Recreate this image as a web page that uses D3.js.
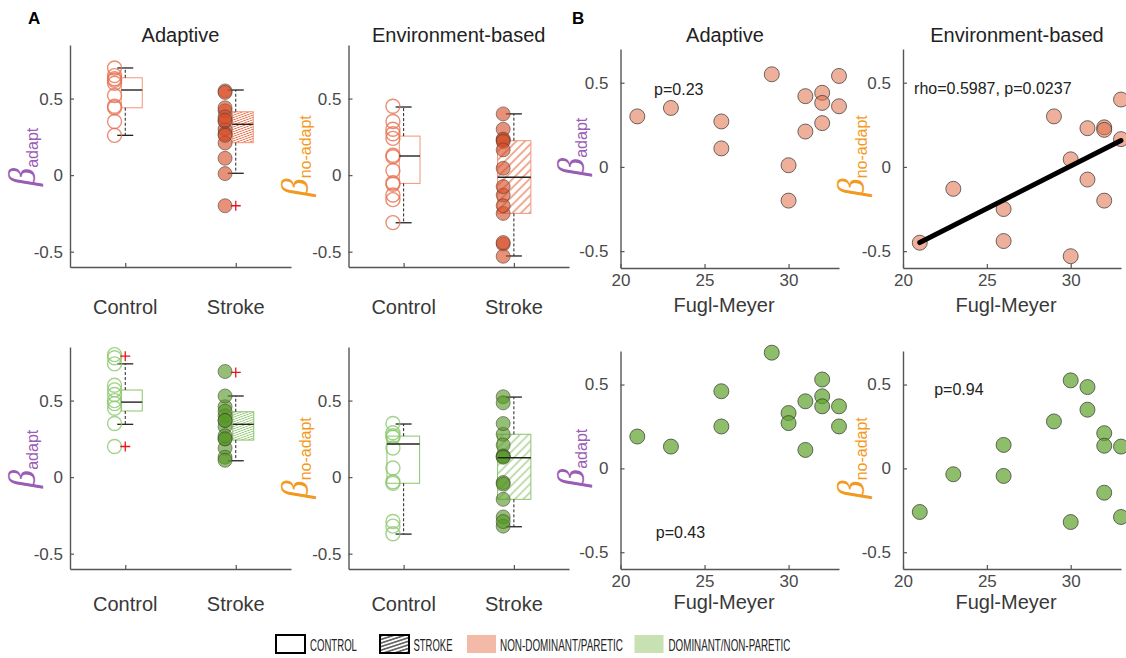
<!DOCTYPE html>
<html>
<head>
<meta charset="utf-8">
<script src="https://cdn.jsdelivr.net/npm/d3@7"></script>
<style>
  body { margin: 0; background: #fff; }
  svg { display: block; font-family: "Liberation Sans", Arial, sans-serif; }
</style>
</head>
<body>
<svg id="chart" width="1126" height="658"></svg>
<script>
// ---------------- data ----------------
const groups = ["Control", "Stroke"];
const betaTicks = [-0.5, 0, 0.5];
const fmTicks = [20, 25, 30];

// Fugl-Meyer score of each stroke participant
const fuglMeyer = [21, 23, 26, 26, 29, 30, 30, 31, 31, 32, 32, 32, 33, 33];

// Non-dominant / paretic arm
const strokeAdaptParetic = [0.30, 0.35, 0.27, 0.11, 0.55, 0.01, -0.20, 0.42, 0.21, 0.44, 0.38, 0.26, 0.54, 0.36];
const strokeEnvParetic   = [-0.45, -0.13, -0.25, -0.44, 0.30, 0.045, -0.53, 0.23, -0.075, 0.235, 0.22, -0.20, 0.40, 0.165];
const controlAdaptNonDom = [0.70, 0.65, 0.63, 0.62, 0.60, 0.52, 0.45, 0.44, 0.35, 0.26];
const controlEnvNonDom   = [0.45, 0.35, 0.30, 0.27, 0.24, 0.13, 0.12, 0.03, -0.05, -0.06, -0.13, -0.16, -0.31];

// Dominant / non-paretic arm
const strokeAdaptNonParetic = [0.19, 0.13, 0.46, 0.25, 0.69, 0.33, 0.27, 0.40, 0.11, 0.53, 0.43, 0.37, 0.37, 0.25];
const strokeEnvNonParetic   = [-0.26, -0.035, 0.14, -0.045, 0.28, 0.525, -0.32, 0.485, 0.35, 0.21, 0.135, -0.145, 0.13, -0.29];
const controlAdaptDom = [0.80, 0.78, 0.74, 0.60, 0.57, 0.54, 0.50, 0.48, 0.45, 0.35, 0.20];
const controlEnvDom   = [0.35, 0.29, 0.27, 0.26, 0.19, 0.06, -0.03, -0.04, -0.29, -0.32, -0.37];

// Box summaries [Control, Stroke]: quartiles, whisker ends, outliers
const boxAdaptParetic = [
  { q1: 0.44, med: 0.556, q3: 0.636, lo: 0.26, hi: 0.70, out: [] },
  { q1: 0.212, med: 0.332, q3: 0.414, lo: 0.012, hi: 0.556, out: [-0.20] }
];
const boxEnvParetic = [
  { q1: -0.054, med: 0.125, q3: 0.255, lo: -0.311, hi: 0.445, out: [] },
  { q1: -0.25, med: -0.014, q3: 0.225, lo: -0.528, hi: 0.40, out: [] }
];
const boxAdaptNonParetic = [
  { q1: 0.432, med: 0.49, q3: 0.569, lo: 0.345, hi: 0.74, out: [0.79, 0.20] },
  { q1: 0.242, med: 0.345, q3: 0.427, lo: 0.107, hi: 0.53, out: [0.684] }
];
const boxEnvNonParetic = [
  { q1: -0.04, med: 0.216, q3: 0.268, lo: -0.372, hi: 0.347, out: [] },
  { q1: -0.145, med: 0.127, q3: 0.28, lo: -0.324, hi: 0.523, out: [] }
];

const statLabels = ["p=0.23", "rho=0.5987, p=0.0237", "p=0.43", "p=0.94"];
const legendLabels = ["CONTROL", "STROKE", "NON-DOMINANT/PARETIC", "DOMINANT/NON-PARETIC"];

// ---------------- styles ----------------
const pal = {
  pink: {
    hollow: "rgb(230,112,80)", dot: "rgb(214,78,38)", box: "rgb(240,150,122)",
    hatch: "rgb(232,100,58)", scatter: "rgb(224,111,73)", scatterOp: 0.55, swatch: "#F3BBA7"
  },
  green: {
    hollow: "rgb(140,200,110)", dot: "rgb(84,152,36)", box: "rgb(140,195,110)",
    hatch: "rgb(140,195,110)", scatter: "rgb(94,162,41)", scatterOp: 0.7, swatch: "#C7E1B3"
  }
};
const axisColor = "#555";
const tickColor = "#4a4a4a";
const purple = "#9A5CB4";
const orange = "#F39A1E";
const fmt = d => d === 0 ? "0" : String(d);

const svg = d3.select("#chart");
const defs = svg.append("defs");

function hatchPattern(id, color, spacing, angle, width) {
  const p = defs.append("pattern").attr("id", id)
    .attr("patternUnits", "userSpaceOnUse")
    .attr("width", 12).attr("height", spacing)
    .attr("patternTransform", `rotate(${angle})`);
  p.append("line").attr("x1", 0).attr("x2", 12)
    .attr("y1", spacing / 2).attr("y2", spacing / 2)
    .attr("stroke", color).attr("stroke-width", width);
}
hatchPattern("hatchPinkDense", pal.pink.hatch, 2.2, -20, 0.8);
hatchPattern("hatchPinkWide", pal.pink.hatch, 6, -45, 1.1);
hatchPattern("hatchGreenDense", pal.green.hatch, 2.2, -20, 0.8);
hatchPattern("hatchGreenWide", pal.green.hatch, 6, -45, 1.1);
hatchPattern("hatchBlack", "#111", 3.4, -18, 1.1);

function styleAxis(sel) {
  sel.select(".domain").attr("stroke", axisColor).attr("stroke-width", 1.4);
  sel.selectAll(".tick line").attr("stroke", axisColor).attr("stroke-width", 1.2);
  sel.selectAll(".tick text").attr("fill", tickColor).attr("font-size", 17)
    .attr("font-family", "'Liberation Sans', Arial, sans-serif");
}

function betaLabel(x, y, sub, color, size) {
  const t = svg.append("text")
    .attr("transform", `translate(${x},${y}) rotate(-90)`)
    .attr("text-anchor", "middle").attr("fill", color);
  t.append("tspan")
    .attr("font-family", "'Liberation Serif', 'DejaVu Serif', serif")
    .attr("font-style", "italic").attr("font-size", size).text("β");
  t.append("tspan").attr("font-size", 16).attr("dy", 3).text(sub);
}

// ---------------- box plot panel ----------------
function boxPanel(o) {
  const x = d3.scaleLinear().domain([0.5, 2.5]).range([o.left, o.right]);
  const y = d3.scaleLinear().domain([-0.6, 0.85]).range([o.bottom, o.top]);
  const g = svg.append("g");

  g.append("g").attr("transform", `translate(${o.left},0)`)
    .call(d3.axisLeft(y).tickValues(betaTicks).tickFormat(fmt)
      .tickSizeInner(-4).tickSizeOuter(0).tickPadding(7))
    .call(styleAxis);
  g.append("g").attr("transform", `translate(0,${o.bottom})`)
    .call(d3.axisBottom(x).tickValues([1, 2]).tickFormat("")
      .tickSizeInner(-4).tickSizeOuter(0))
    .call(styleAxis);

  groups.forEach((name, i) => {
    const cx = x(i + 1);
    const s = o.stats[i];
    const span = o.spans[i];
    const vals = i === 0 ? o.control : o.stroke;

    // box
    g.append("rect")
      .attr("x", cx + span[0]).attr("width", span[1] - span[0])
      .attr("y", y(s.q3)).attr("height", y(s.q1) - y(s.q3))
      .attr("fill", i === 0 ? "none" : `url(#${o.hatch})`)
      .attr("stroke", o.pal.box).attr("stroke-width", 1);

    // whiskers
    [[s.q3, s.hi], [s.q1, s.lo]].forEach(([a, b]) => {
      g.append("line").attr("x1", cx).attr("x2", cx)
        .attr("y1", y(a)).attr("y2", y(b))
        .attr("stroke", "#222").attr("stroke-width", 1).attr("stroke-dasharray", "3,2");
      g.append("line").attr("x1", cx - 8).attr("x2", cx + 8)
        .attr("y1", y(b)).attr("y2", y(b))
        .attr("stroke", "#222").attr("stroke-width", 1.3);
    });

    // individual participants
    g.append("g").selectAll("circle").data(vals).join("circle")
      .attr("cx", cx - 10.7).attr("cy", d => y(d)).attr("r", 7)
      .attr("fill", i === 0 ? "none" : o.pal.dot)
      .attr("fill-opacity", 0.62)
      .attr("stroke", i === 0 ? o.pal.hollow : "rgb(70,60,55)")
      .attr("stroke-opacity", i === 0 ? 0.8 : 0.55)
      .attr("stroke-width", i === 0 ? 1.4 : 1);

    // median
    g.append("line").attr("x1", cx + span[0]).attr("x2", cx + span[1])
      .attr("y1", y(s.med)).attr("y2", y(s.med))
      .attr("stroke", "#222").attr("stroke-width", 1.4);

    // outliers
    s.out.forEach(v => {
      g.append("path")
        .attr("d", `M${cx - 5},${y(v)}H${cx + 5}M${cx},${y(v) - 5}V${y(v) + 5}`)
        .attr("stroke", "#E8141E").attr("stroke-width", 1.3);
    });

    g.append("text").attr("x", cx).attr("y", o.catY)
      .attr("text-anchor", "middle").attr("font-size", 20).attr("fill", "#383838")
      .text(name);
  });

  if (o.title) {
    g.append("text").attr("x", (o.left + o.right) / 2).attr("y", 42)
      .attr("text-anchor", "middle").attr("font-size", 20).attr("fill", "#222")
      .text(o.title);
  }
}

// ---------------- scatter panel ----------------
function scatterPanel(o) {
  const x = d3.scaleLinear().domain([20, 33]).range([o.left, o.right]);
  const y = d3.scaleLinear().domain([-0.6, 0.7]).range([o.bottom, o.top]);
  const g = svg.append("g");

  g.append("g").attr("transform", `translate(${o.left},0)`)
    .call(d3.axisLeft(y).tickValues(betaTicks).tickFormat(fmt)
      .tickSizeInner(-4).tickSizeOuter(0).tickPadding(12))
    .call(styleAxis);
  g.append("g").attr("transform", `translate(0,${o.bottom})`)
    .call(d3.axisBottom(x).tickValues(fmTicks)
      .tickSizeInner(-4).tickSizeOuter(0).tickPadding(6))
    .call(styleAxis);

  const pts = fuglMeyer.map((f, i) => [f, o.values[i]]);

  g.append("g").selectAll("circle").data(pts).join("circle")
    .attr("cx", d => x(d[0])).attr("cy", d => y(d[1])).attr("r", 7.5)
    .attr("fill", o.pal.scatter).attr("fill-opacity", o.pal.scatterOp)
    .attr("stroke", "rgb(60,60,60)").attr("stroke-opacity", 0.75).attr("stroke-width", 1);

  if (o.fit) {
    // least-squares line across the observed Fugl-Meyer range
    const mx = d3.mean(pts, d => d[0]), my = d3.mean(pts, d => d[1]);
    const sxy = d3.sum(pts, d => (d[0] - mx) * (d[1] - my));
    const sxx = d3.sum(pts, d => (d[0] - mx) ** 2);
    const b = sxy / sxx, a = my - b * mx;
    const ext = d3.extent(pts, d => d[0]);
    g.append("path")
      .attr("d", d3.line()(ext.map(f => [x(f), y(a + b * f)])))
      .attr("stroke", "#000").attr("stroke-width", 5).attr("stroke-linecap", "round");
  }

  g.append("text").attr("x", x(o.statAt[0])).attr("y", y(o.statAt[1]))
    .attr("dominant-baseline", "central").attr("font-size", 16).attr("fill", "#222")
    .text(o.stat);

  g.append("text").attr("x", o.xLabelX).attr("y", o.xLabelY)
    .attr("text-anchor", "middle").attr("font-size", 20).attr("fill", "#383838")
    .text("Fugl-Meyer");

  if (o.title) {
    g.append("text").attr("x", o.titleX).attr("y", 42)
      .attr("text-anchor", "middle").attr("font-size", 20).attr("fill", "#222")
      .text(o.title);
  }
}

// ---------------- panels ----------------
boxPanel({ left: 70, right: 291, top: 45, bottom: 267, catY: 314, title: "Adaptive",
  control: controlAdaptNonDom, stroke: strokeAdaptParetic, stats: boxAdaptParetic,
  pal: pal.pink, hatch: "hatchPinkDense", spans: [[-4, 17], [-3.5, 17.5]] });
boxPanel({ left: 348.5, right: 569, top: 45, bottom: 267, catY: 314, title: "Environment-based",
  control: controlEnvNonDom, stroke: strokeEnvParetic, stats: boxEnvParetic,
  pal: pal.pink, hatch: "hatchPinkWide", spans: [[-4.3, 16.4], [-16.3, 17]] });
boxPanel({ left: 70, right: 291, top: 347, bottom: 569, catY: 611,
  control: controlAdaptDom, stroke: strokeAdaptNonParetic, stats: boxAdaptNonParetic,
  pal: pal.green, hatch: "hatchGreenDense", spans: [[-4, 17], [-3, 18]] });
boxPanel({ left: 348.5, right: 569, top: 347, bottom: 569, catY: 611,
  control: controlEnvDom, stroke: strokeEnvNonParetic, stats: boxEnvNonParetic,
  pal: pal.green, hatch: "hatchGreenWide", spans: [[-16.7, 16], [-16.3, 17]] });

scatterPanel({ left: 620.5, right: 839, top: 49, bottom: 268, title: "Adaptive", titleX: 725,
  values: strokeAdaptParetic, pal: pal.pink, stat: statLabels[0], statAt: [22.0, 0.46],
  xLabelX: 724, xLabelY: 312 });
scatterPanel({ left: 903, right: 1121, top: 49, bottom: 268, title: "Environment-based", titleX: 1017,
  values: strokeEnvParetic, pal: pal.pink, stat: statLabels[1], statAt: [20.66, 0.466], fit: true,
  xLabelX: 1006, xLabelY: 312 });
scatterPanel({ left: 620.5, right: 839, top: 351, bottom: 569,
  values: strokeAdaptNonParetic, pal: pal.green, stat: statLabels[2], statAt: [22.1, -0.383],
  xLabelX: 724, xLabelY: 609 });
scatterPanel({ left: 903, right: 1121, top: 351, bottom: 569,
  values: strokeEnvNonParetic, pal: pal.green, stat: statLabels[3], statAt: [21.86, 0.47],
  xLabelX: 1006, xLabelY: 609 });

// y-axis labels
betaLabel(35, 157, "adapt", purple, 37);
betaLabel(308, 156, "no-adapt", orange, 37);
betaLabel(584, 147, "adapt", purple, 37);
betaLabel(864, 156, "no-adapt", orange, 37);
betaLabel(35, 459, "adapt", purple, 37);
betaLabel(308, 458, "no-adapt", orange, 37);
betaLabel(584, 458, "adapt", purple, 37);
betaLabel(864, 458, "no-adapt", orange, 37);

// panel letters
svg.append("text").attr("x", 28).attr("y", 24).attr("font-size", 17).attr("font-weight", "bold").text("A");
svg.append("text").attr("x", 572).attr("y", 24).attr("font-size", 17).attr("font-weight", "bold").text("B");

// ---------------- legend ----------------
const legend = svg.append("g").attr("font-family", "'Liberation Sans Narrow', 'Liberation Sans', sans-serif");
const swatches = [
  { x: 276, fill: "none", stroke: "#000", textX: 310, len: 47 },
  { x: 380, fill: "url(#hatchBlack)", stroke: "#000", textX: 413.5, len: 39 },
  { x: 467, fill: pal.pink.swatch, stroke: "none", textX: 500, len: 123 },
  { x: 634.5, fill: pal.green.swatch, stroke: "none", textX: 668.5, len: 122 }
];
swatches.forEach((s, i) => {
  legend.append("rect").attr("x", s.x).attr("y", 635).attr("width", 29).attr("height", 18)
    .attr("fill", s.fill).attr("stroke", s.stroke).attr("stroke-width", 2);
  // condensed label: squeeze horizontally to the legend slot width
  const t = legend.append("text").attr("font-size", 16).attr("fill", "#222")
    .text(legendLabels[i]);
  const w = t.node().getComputedTextLength();
  t.attr("transform", `translate(${s.textX},651) scale(${s.len / w},1)`);
});
</script>
</body>
</html>
